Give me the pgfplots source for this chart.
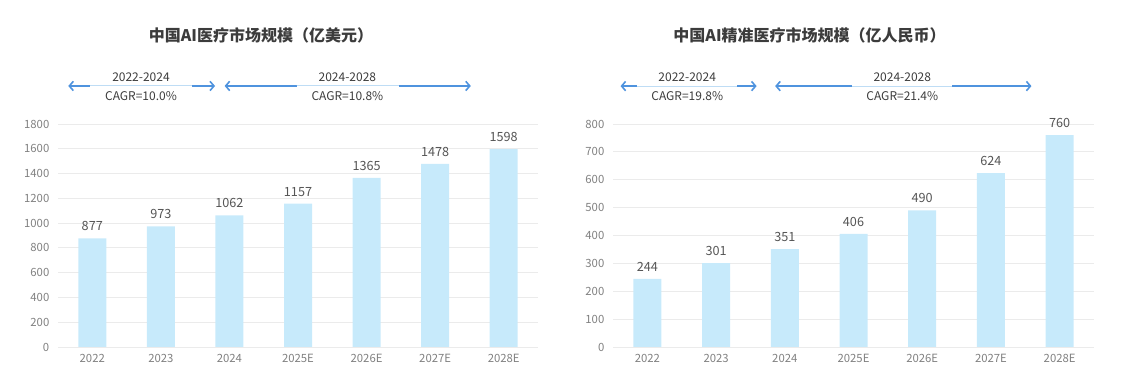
\documentclass[border=0pt]{standalone}
\usepackage{fontspec}
\setmainfont{Noto Sans CJK SC}
\usepackage{pgfplots}
\pgfplotsset{compat=1.18}
\usetikzlibrary{arrows.meta}
\definecolor{barblue}{HTML}{C7EAFB}
\definecolor{arrowdark}{HTML}{4F93DE}
\definecolor{arrowlight}{HTML}{BFDDF5}
\definecolor{gridc}{HTML}{EBEBEB}
\definecolor{tickc}{HTML}{808080}
\definecolor{valc}{HTML}{555555}
\definecolor{titlec}{HTML}{3C3C3C}
\pgfplotsset{mystyle/.style={
  scale only axis, ybar, bar width=21pt,
  xmin=-0.5, xmax=6.5, ymin=0,
  xtick={0,...,6}, xticklabels={2022,2023,2024,2025E,2026E,2027E,2028E},
  axis line style={draw=none}, major tick length=0,
  ymajorgrids, grid style={gridc, line width=0.7pt},
  tick label style={font=\fontsize{8.5}{10}\selectfont, text=tickc},
  yticklabel style={xshift=-3pt},
  xticklabel style={yshift=-2pt},
  nodes near coords,
  nodes near coords style={font=\fontsize{9.5}{11}\selectfont, text=valc, yshift=2pt},
  /pgf/number format/assume math mode=true,
  /pgf/number format/1000 sep={},
  clip=false,
}}
\tikzset{
  arr/.style={draw=arrowdark, line width=1.2pt, {Straight Barb[length=3pt,width=7pt]}-{Straight Barb[length=3pt,width=7pt]}},
  arrw/.style={draw=white, line width=1.6pt},
  arrl/.style={draw=arrowlight, line width=0.8pt},
  cagr/.style={font=\fontsize{9}{10}\selectfont, text=titlec},
  ttl/.style={font=\fontsize{12}{14}\selectfont\bfseries, text=titlec},
}
\begin{document}
\begin{tikzpicture}
\path[use as bounding box] (0,0) rectangle (850.5pt,288.75pt);
\begin{axis}[mystyle, at={(43.5pt,28.5pt)}, anchor=south west,
  width=360pt, height=167.25pt, ymax=1800, ytick distance=200]
\addplot[fill=barblue, draw=none] coordinates {(0,877) (1,973) (2,1062) (3,1157) (4,1365) (5,1478) (6,1598)};
\node[ttl] at (axis cs:2.46,2519) {中国AI医疗市场规模（亿美元）};
\draw[arr] (axis cs:-0.35,2107) -- (axis cs:1.79,2107);
\draw[arrw] (axis cs:-0.03,2107) -- (axis cs:1.45,2107);
\draw[arrl] (axis cs:-0.03,2107) -- (axis cs:1.45,2107);
\node[cagr] at (axis cs:0.71,2180) {2022-2024};
\node[cagr] at (axis cs:0.71,2026) {CAGR=10.0\%};
\draw[arr] (axis cs:1.93,2107) -- (axis cs:5.52,2107);
\draw[arrw] (axis cs:2.98,2107) -- (axis cs:4.48,2107);
\draw[arrl] (axis cs:2.98,2107) -- (axis cs:4.48,2107);
\node[cagr] at (axis cs:3.72,2180) {2024-2028};
\node[cagr] at (axis cs:3.72,2026) {CAGR=10.8\%};
\end{axis}
\begin{axis}[mystyle, at={(459.75pt,28.5pt)}, anchor=south west,
  width=360.75pt, height=167.25pt, ymax=800, ytick distance=100]
\addplot[fill=barblue, draw=none] coordinates {(0,244) (1,301) (2,351) (3,406) (4,490) (5,624) (6,760)};
\node[ttl] at (axis cs:2.36,1119) {中国AI精准医疗市场规模（亿人民币）};
\draw[arr] (axis cs:-0.39,936) -- (axis cs:1.59,936);
\draw[arrw] (axis cs:-0.15,936) -- (axis cs:1.31,936);
\draw[arrl] (axis cs:-0.15,936) -- (axis cs:1.31,936);
\node[cagr] at (axis cs:0.58,968) {2022-2024};
\node[cagr] at (axis cs:0.58,900) {CAGR=19.8\%};
\draw[arr] (axis cs:1.86,936) -- (axis cs:5.59,936);
\draw[arrw] (axis cs:2.98,936) -- (axis cs:4.44,936);
\draw[arrl] (axis cs:2.98,936) -- (axis cs:4.44,936);
\node[cagr] at (axis cs:3.71,968) {2024-2028};
\node[cagr] at (axis cs:3.71,900) {CAGR=21.4\%};
\end{axis}
\end{tikzpicture}
\end{document}
